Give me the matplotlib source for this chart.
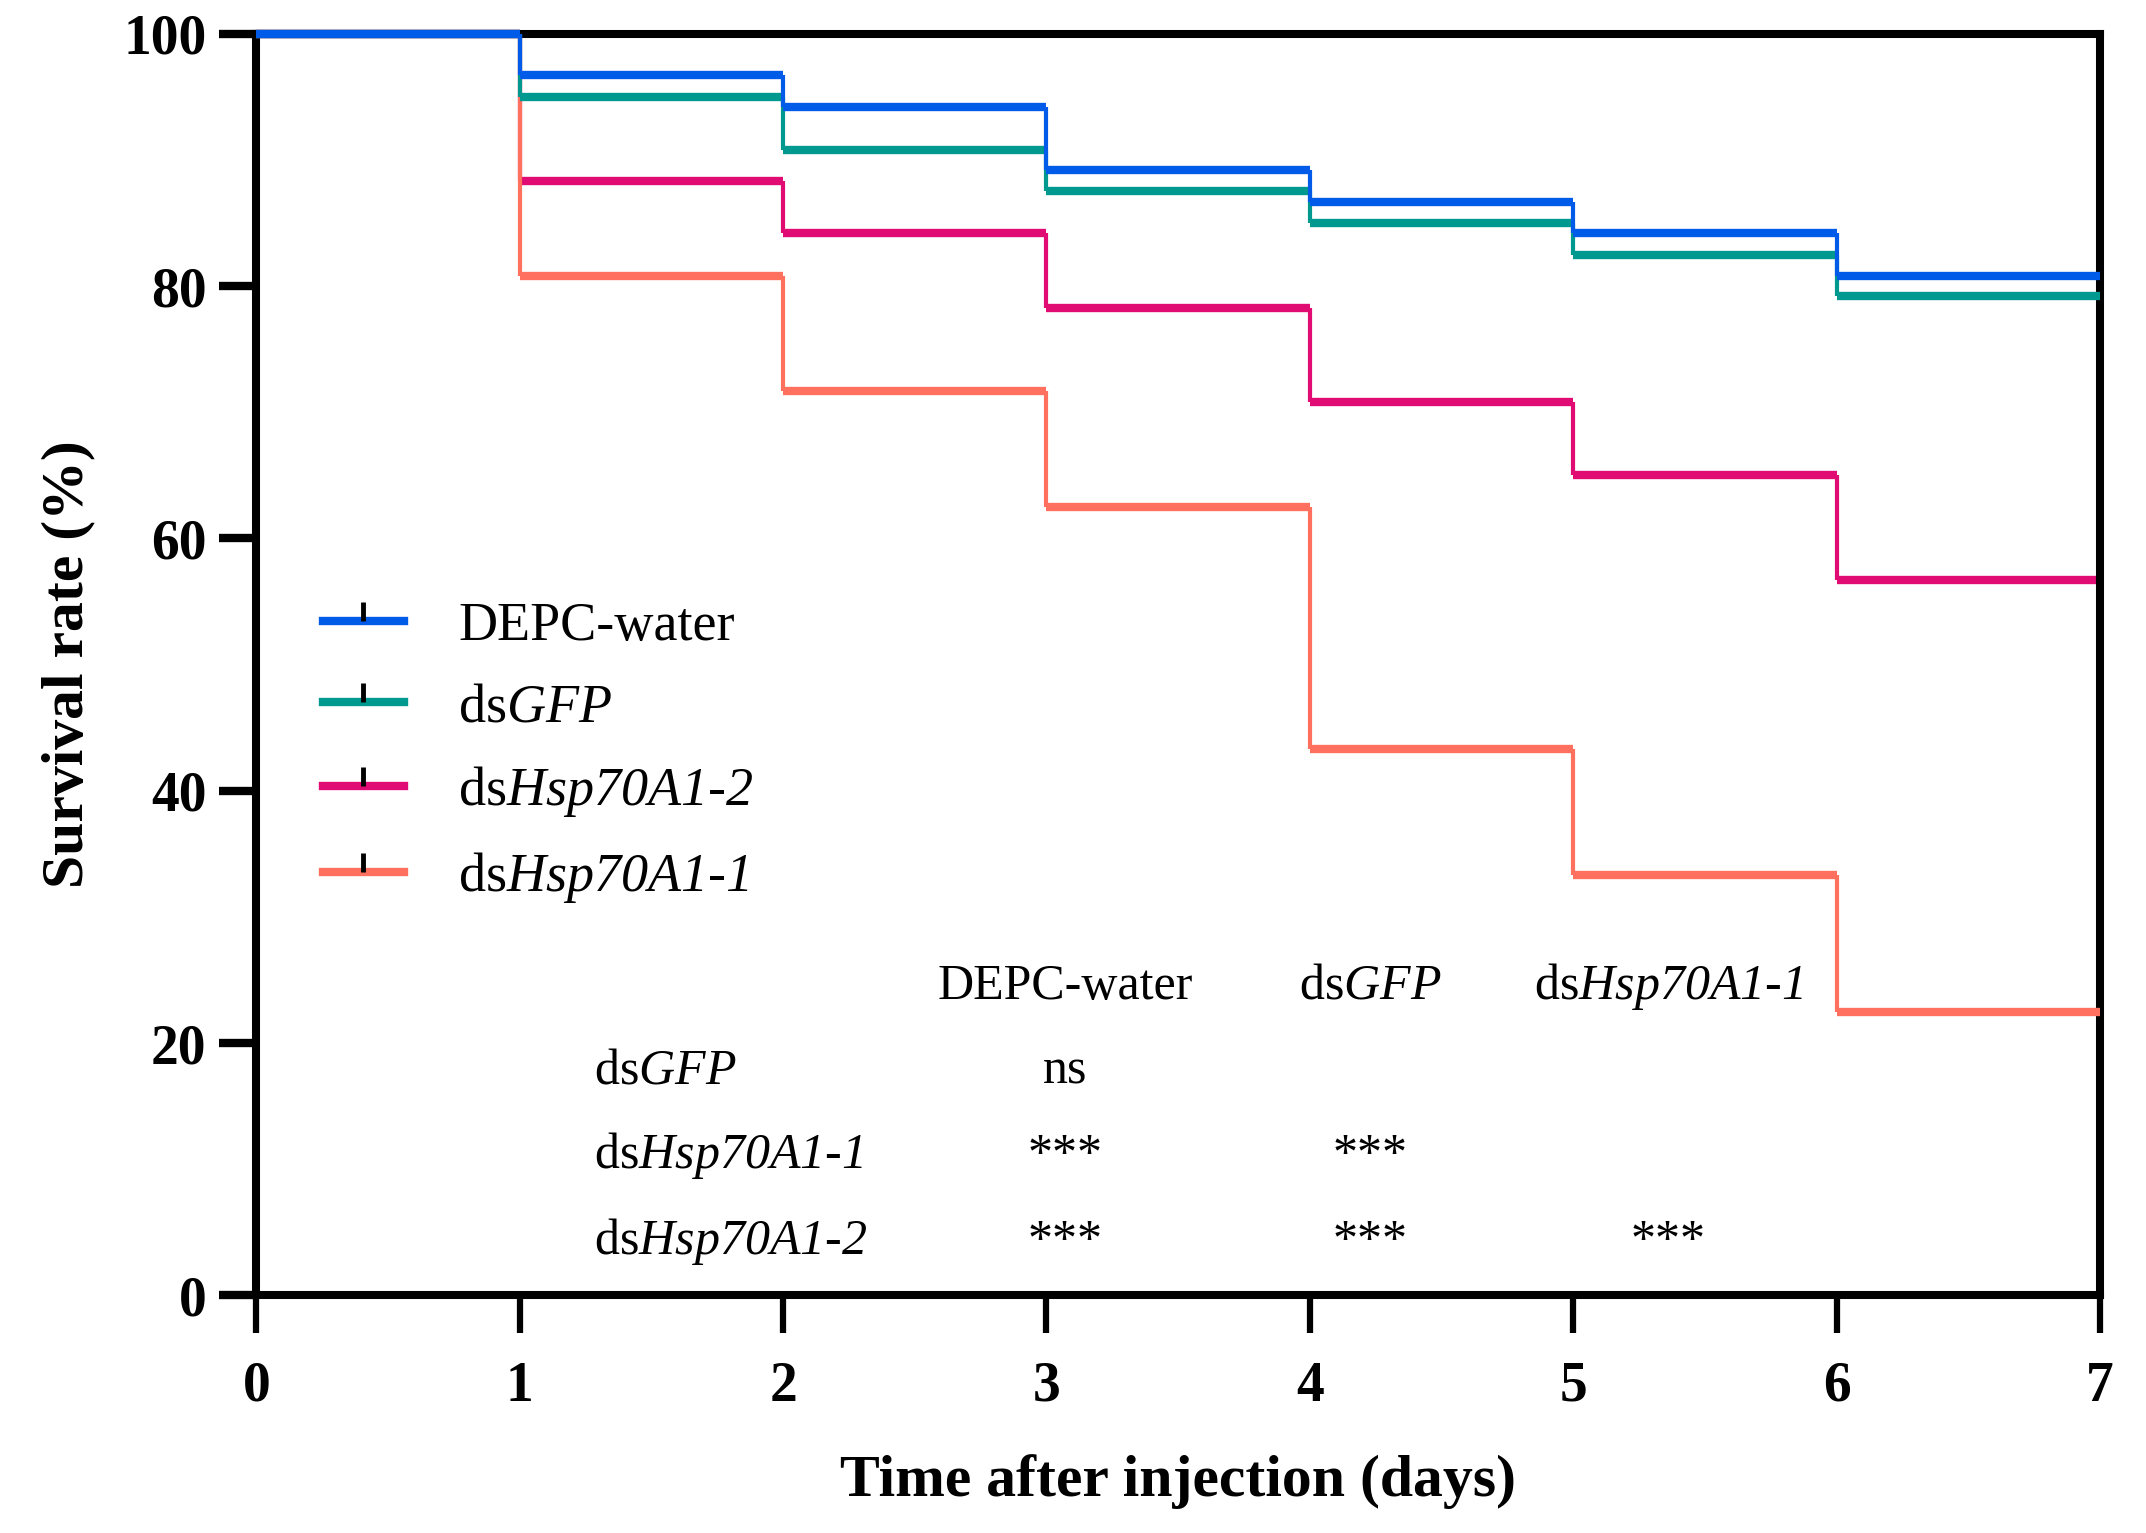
import matplotlib
matplotlib.use("Agg")
import matplotlib.pyplot as plt
from matplotlib.lines import Line2D
from matplotlib.path import Path

plt.rcParams['font.family'] = ['Liberation Serif', 'DejaVu Serif']
plt.rcParams['mathtext.fontset'] = 'custom'
plt.rcParams['mathtext.rm'] = 'Liberation Serif:italic'
plt.rcParams['mathtext.it'] = 'Liberation Serif:italic'
plt.rcParams['mathtext.bf'] = 'Liberation Serif:bold'

# ---- data ----
days = [0, 1, 2, 3, 4, 5, 6]
end_day = 7
depc_water = [100, 96.7, 94.2, 89.2, 86.7, 84.2, 80.8]
ds_gfp = [100, 95.0, 90.8, 87.5, 85.0, 82.5, 79.2]
ds_hsp_2 = [100, 88.3, 84.2, 78.3, 70.8, 65.0, 56.7]
ds_hsp_1 = [100, 80.8, 71.7, 62.5, 43.3, 33.3, 22.5]

labels = ['DEPC-water', r'ds$\mathit{GFP}$', r'ds$\mathit{Hsp70A1}$-$\mathit{2}$', r'ds$\mathit{Hsp70A1}$-$\mathit{1}$']
colors = ['#005BE8', '#00998F', '#E00B73', '#FF715E']
series = [depc_water, ds_gfp, ds_hsp_2, ds_hsp_1]
zorders = [5, 4, 2, 3]

x_ticks = [0, 1, 2, 3, 4, 5, 6, 7]
y_ticks = [0, 20, 40, 60, 80, 100]

# significance table
col_heads = ['DEPC-water', r'ds$\mathit{GFP}$', r'ds$\mathit{Hsp70A1}$-$\mathit{1}$']
row_heads = [r'ds$\mathit{GFP}$', r'ds$\mathit{Hsp70A1}$-$\mathit{1}$', r'ds$\mathit{Hsp70A1}$-$\mathit{2}$']
sig = [['ns', '', ''],
       ['***', '***', ''],
       ['***', '***', '***']]
col_x = [3.07, 4.23, 5.36]
head_y = 23.5
row_y = [16.8, 10.1, 3.3]
row_x = 1.28

fig = plt.figure(figsize=(21.46, 15.33), dpi=100)
ax = fig.add_axes([0.1195, 0.155, 0.859, 0.823])

for vals, c, z in zip(series, colors, zorders):
    ends = days[1:] + [end_day]
    ax.hlines(vals, days, ends, colors=c, lw=6.0, zorder=z, clip_on=False)
    ax.vlines(days[1:], vals[1:], vals[:-1], colors=c, lw=3.0, zorder=z, clip_on=False)

ax.set_xlim(0, 7)
ax.set_ylim(0, 100)
ax.set_xticks(x_ticks)
ax.set_yticks(y_ticks)
for s in ax.spines.values():
    s.set_linewidth(5.8)
ax.tick_params(axis='y', direction='out', length=27, width=6, pad=9, labelsize=40)
ax.tick_params(axis='x', direction='out', length=27, width=4.5, pad=20, labelsize=40)
for lab in ax.get_xticklabels() + ax.get_yticklabels():
    lab.set_fontweight('bold')

ax.set_xlabel('Time after injection (days)', fontsize=43, fontweight='bold', labelpad=30)
ax.set_ylabel('Survival rate (%)', fontsize=43, fontweight='bold', labelpad=20)

# legend
up_tick = Path([(0, 0), (0, 1)], [Path.MOVETO, Path.LINETO])
handles = []
for c in colors:
    ln = Line2D([], [], color=c, lw=6.0)
    mk = Line2D([], [], color='black', lw=0, marker=up_tick, markersize=28,
                markeredgewidth=3.5, markeredgecolor='black')
    handles.append((ln, mk))
ax.legend(handles, labels, loc='upper left', bbox_to_anchor=(0.036, 0.55),
          frameon=False, fontsize=39, handlelength=1.5, handletextpad=1.0,
          labelspacing=0.57, borderpad=0, borderaxespad=0)

# significance table
for cx, h in zip(col_x, col_heads):
    ax.text(cx, head_y, h, fontsize=36, ha='center', va='baseline')
for ry, rh, row in zip(row_y, row_heads, sig):
    ax.text(row_x, ry, rh, fontsize=36, ha='left', va='baseline')
    for cx, s in zip(col_x, row):
        if s:
            ax.text(cx, ry, s, fontsize=36, ha='center', va='baseline')

fig.savefig('out.png', dpi=100)
